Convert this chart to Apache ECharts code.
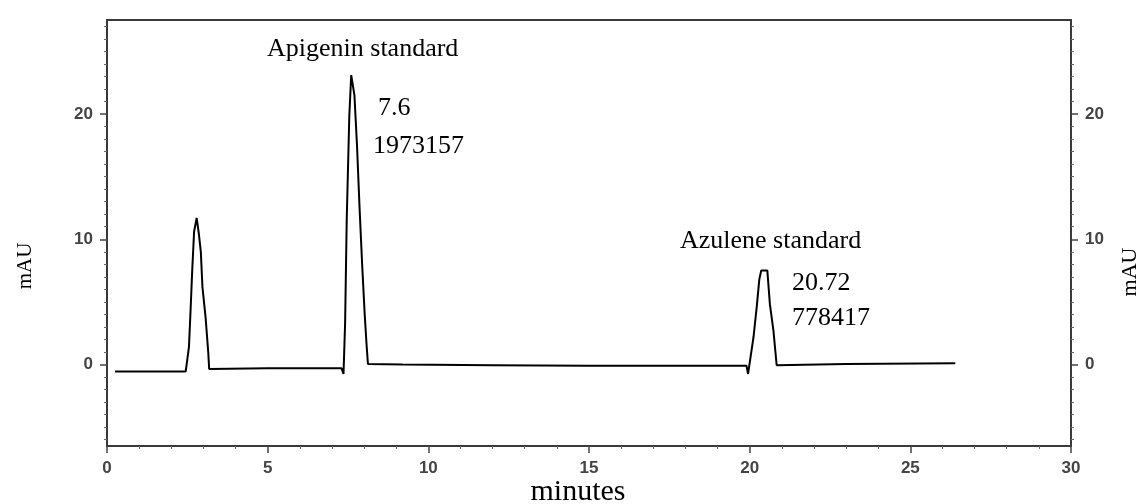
<!DOCTYPE html>
<html>
<head>
<meta charset="utf-8">
<script src="https://cdn.jsdelivr.net/npm/echarts@6/dist/echarts.min.js"></script>
<style>html,body{margin:0;padding:0;background:#fff}#c{width:1139px;height:504px}</style>
</head>
<body>
<div id="c"></div>
<script>
// retention time (minutes)
var times = [0.25, 2.45, 2.50, 2.55, 2.60, 2.65, 2.71, 2.79, 2.86, 2.92, 2.97, 3.07, 3.15, 3.18,
  5.0, 7.30, 7.36, 7.41, 7.46, 7.54, 7.60, 7.64, 7.70, 7.78, 7.86, 7.94, 8.02, 8.08, 8.12,
  9.2, 12.0, 15.0, 19.90, 19.95, 20.01, 20.12, 20.22, 20.30, 20.36, 20.55, 20.63, 20.74, 20.84,
  23.0, 26.4];
// absorbance (mAU)
var absorbance = [-0.55, -0.55, -0.6, 1.4, 4.3, 7.4, 10.6, 11.7, 10.4, 9.0, 6.2, 3.7, 1.0, -0.35,
  -0.3, -0.3, -0.75, 3.3, 11.5, 19.8, 23.1, 23.1, 21.5, 17.5, 12.5, 8.0, 4.0, 1.5, 0.05,
  0.0, -0.05, -0.1, -0.1, -0.75, 0.3, 2.2, 4.6, 6.8, 7.5, 7.5, 4.8, 2.7, -0.05,
  0.05, 0.1];
var yTickLabels = [0, 10, 20];
var yMinorTicks = [-6,-5,-4,-3,-2,-1,1,2,3,4,5,6,7,8,9,11,12,13,14,15,16,17,18,19,21,22,23,24,25,26,27];
var peakTexts = ['Apigenin standard', '7.6', '1973157', 'Azulene standard', '20.72', '778417'];
var axisTitles = {x: 'minutes', y: 'mAU'};

var seriesData = times.map(function (t, i) { return [t, absorbance[i]]; });

var chart = echarts.init(document.getElementById('c'), null, {renderer: 'canvas'});
var lblStyle = {fontFamily: 'Liberation Sans, Arial, sans-serif', fontSize: 17, fontWeight: 'bold', color: '#444'};
var frameLine = {show: true, onZero: false, lineStyle: {color: '#3a3a3a', width: 2}};
var serif = 'Liberation Serif, Times New Roman, serif';

function yAxisMajor(pos) {
  return {
    type: 'value', min: -6.5, max: 27.5, position: pos, splitLine: {show: false},
    axisLine: frameLine,
    axisTick: {show: true, customValues: yTickLabels, length: 7, lineStyle: {color: '#444', width: 1.5}},
    axisLabel: Object.assign({customValues: yTickLabels, margin: 14}, lblStyle)
  };
}
function yAxisMinor(pos) {
  return {
    type: 'value', min: -6.5, max: 27.5, position: pos, splitLine: {show: false},
    axisLine: {show: false, onZero: false},
    axisTick: {show: true, customValues: yMinorTicks, length: 3, lineStyle: {color: '#666', width: 1}},
    axisLabel: {show: false}
  };
}
function txt(x, y, s, size, extra) {
  return Object.assign({type: 'text', x: x, y: y, style: {text: s, font: size + 'px ' + serif, fill: '#000',
    verticalAlign: 'middle', textVerticalAlign: 'middle'}}, extra || {});
}

chart.setOption({
  animation: false,
  backgroundColor: '#fff',
  grid: {left: 107, right: 68, top: 20, bottom: 58},
  xAxis: [{
    type: 'value', min: 0, max: 30, interval: 5, position: 'bottom',
    splitLine: {show: false},
    axisLine: frameLine,
    axisTick: {show: true, length: 7, lineStyle: {color: '#444', width: 1.5}},
    minorTick: {show: true, splitNumber: 5, length: 3, lineStyle: {color: '#666', width: 1}},
    axisLabel: Object.assign({margin: 14}, lblStyle)
  }, {
    type: 'value', min: 0, max: 30, position: 'top',
    splitLine: {show: false}, axisLine: frameLine,
    axisTick: {show: false}, axisLabel: {show: false}
  }],
  yAxis: [yAxisMajor('left'), yAxisMinor('left'), yAxisMajor('right'), yAxisMinor('right')],
  series: [{
    type: 'line', xAxisIndex: 0, yAxisIndex: 0, data: seriesData,
    showSymbol: false, symbol: 'none',
    lineStyle: {color: '#000', width: 2}
  }],
  graphic: [
    txt(267, 49, peakTexts[0], 26),
    txt(378, 108, peakTexts[1], 26),
    txt(373, 146, peakTexts[2], 26),
    txt(680, 241, peakTexts[3], 26),
    txt(792, 283, peakTexts[4], 26),
    txt(792, 318, peakTexts[5], 26),
    (function () { var t = txt(578, 492, axisTitles.x, 30); t.style.align = 'center'; t.style.textAlign = 'center'; return t; })(),
    (function () { var t = txt(25, 266, axisTitles.y, 21, {rotation: Math.PI / 2}); t.style.align = 'center'; t.style.textAlign = 'center'; return t; })(),
    (function () { var t = txt(1130, 272, axisTitles.y, 22, {rotation: Math.PI / 2}); t.style.align = 'center'; t.style.textAlign = 'center'; return t; })()
  ]
});
</script>
</body>
</html>
